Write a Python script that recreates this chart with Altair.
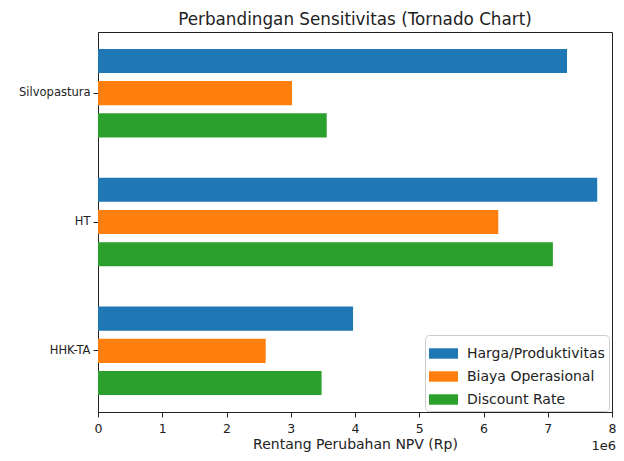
import altair as alt
import pandas as pd

categories = ["Silvopastura", "HT", "HHK-TA"]
series = ["Harga/Produktivitas", "Biaya Operasional", "Discount Rate"]
harga = [7.30e6, 7.77e6, 3.97e6]
biaya = [3.02e6, 6.23e6, 2.61e6]
discount = [3.56e6, 7.08e6, 3.48e6]
colors = ["#1f77b4", "#ff7f0e", "#2ca02c"]
x_ticks = [0, 1e6, 2e6, 3e6, 4e6, 5e6, 6e6, 7e6, 8e6]
offset_label = ["1e6"]

rows = []
for i, c in enumerate(categories):
    for s, vals in zip(series, [harga, biaya, discount]):
        rows.append({"Kategori": c, "Parameter": s, "Rentang": vals[i]})
df = pd.DataFrame(rows)

W, H = 514, 380
FONT = "DejaVu Sans"

bars = alt.Chart(df).mark_bar().encode(
    y=alt.Y(
        "Kategori:N",
        sort=categories,
        scale=alt.Scale(paddingInner=0.25, paddingOuter=0.1),
        axis=alt.Axis(title=None, labelFontSize=11.5, tickSize=5, labelPadding=3,
                      labelColor="#222", tickColor="#222", domainColor="#222"),
    ),
    yOffset=alt.YOffset(
        "Parameter:N",
        sort=series,
        scale=alt.Scale(paddingInner=0.25, paddingOuter=0.125),
    ),
    x=alt.X(
        "Rentang:Q",
        scale=alt.Scale(domain=[0, 8e6], nice=False),
        axis=alt.Axis(values=x_ticks, labelExpr="datum.value / 1000000",
                      title="Rentang Perubahan NPV (Rp)", grid=False,
                      labelFontSize=12.5, titleFontSize=14, titleFontWeight="normal",
                      tickSize=5, labelPadding=5, titlePadding=3,
                      labelColor="#222", tickColor="#222", domainColor="#222",
                      titleColor="#222", labelFlush=False),
    ),
    color=alt.Color(
        "Parameter:N",
        sort=series,
        scale=alt.Scale(domain=series, range=colors),
        legend=alt.Legend(
            title=None, orient="none", legendX=327, legendY=303,
            symbolType="M-1,-0.36H1V0.36H-1Z", symbolSize=841,
            symbolStrokeWidth=0, labelFontSize=14, labelColor="#222",
            fillColor="white", strokeColor="#cccccc", cornerRadius=4,
            padding=4, rowPadding=1, labelOffset=9,
        ),
    ),
)

off = alt.Chart(pd.DataFrame({"t": offset_label})).mark_text(
    align="right", baseline="top", fontSize=13, font=FONT, color="#222"
).encode(x=alt.value(W + 4), y=alt.value(H + 28), text="t:N")

chart = alt.layer(bars, off).properties(
    width=W, height=H,
    title=alt.TitleParams("Perbandingan Sensitivitas (Tornado Chart)", fontSize=16.8,
                          fontWeight="normal", font=FONT, color="#222", offset=3,
                          anchor="middle"),
    autosize=alt.AutoSizeParams(type="none"),
    padding={"left": 90, "top": 24, "right": 4, "bottom": 42},
).configure(font=FONT).configure_axis(labelFont=FONT, titleFont=FONT).configure_legend(
    labelFont=FONT
).configure_view(stroke="#222", strokeWidth=1)

chart.save("out.html", embed_options={"renderer": "svg", "actions": False})
